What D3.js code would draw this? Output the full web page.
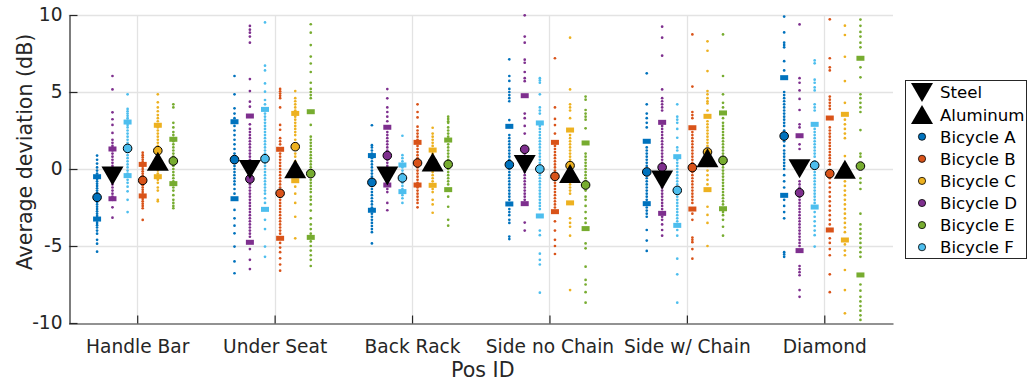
<!DOCTYPE html>
<html>
<head>
<meta charset="utf-8">
<script src="https://cdn.jsdelivr.net/npm/d3@7"></script>
<style>
  html, body { margin: 0; padding: 0; background: #fff; }
  svg { display: block; font-family: 'DejaVu Sans', Verdana, sans-serif; }
</style>
</head>
<body>
<div id="chart"></div>
<script>
// categories and series
const categories = ['Handle Bar', 'Under Seat', 'Back Rack', 'Side no Chain', 'Side w/ Chain', 'Diamond'];
const bikes = ['A', 'B', 'C', 'D', 'E', 'F'];
const steelBikes = ['A', 'D', 'F'];
const aluminumBikes = ['B', 'C', 'E'];
const yTicks = [-10, -5, 0, 5, 10];

// mean per bicycle per position (circles)
const bikeMeans = {
  A: [-1.84, 0.61, -0.87, 0.28, -0.19, 2.14],
  B: [-0.74, -1.58, 0.39, -0.48, 0.09, -0.3],
  C: [1.19, 1.45, 0.45, 0.22, 1.1, -0.05],
  D: [-0.4, -0.65, 0.87, 1.28, 0.11, -1.54],
  E: [0.52, -0.3, 0.3, -1.04, 0.56, 0.19],
  F: [1.34, 0.67, -0.58, 0.0, -1.39, 0.24]
};
// upper / lower marks (bars)
const bikeUpper = {
  A: [-0.5, 3.07, 0.87, 2.77, 1.8, 5.93],
  B: [0.3, 1.28, 1.73, 1.73, 2.68, 3.31],
  C: [2.84, 3.61, 1.23, 2.53, 3.42, 3.55],
  D: [1.3, 3.44, 2.71, 4.76, 3.03, 2.16],
  E: [1.93, 3.72, 1.88, 1.69, 3.64, 7.19],
  F: [3.05, 3.87, 0.26, 2.99, 0.8, 2.9]
};
const bikeLower = {
  A: [-3.25, -1.93, -2.68, -2.27, -2.25, -1.71],
  B: [-1.75, -4.5, -1.04, -2.77, -2.6, -3.96],
  C: [-0.5, -0.76, -1.06, -2.2, -1.34, -4.61],
  D: [-1.93, -4.76, -1.04, -2.25, -2.88, -5.3],
  E: [-0.95, -4.44, -1.34, -3.87, -2.58, -6.88],
  F: [-0.43, -2.62, -1.47, -3.05, -3.66, -2.47]
};
// group means (triangles)
const steelMeans = [-0.45, -0.04, -0.45, 0.3, -0.72, 0.02];
const aluminumMeans = [0.5, 0.02, 0.45, -0.3, 0.73, -0.02];

// individual measurements (dots)
const dotsHandleBar = {
  A: [0.87, 0.6, 0.35, 0.1, -0.1, -0.3, -0.5, -0.65, -0.8, -0.95, -1.1, -1.25, -1.4, -1.55, -1.7, -1.85, -2.0, -2.15, -2.3, -2.45, -2.6, -2.75, -2.9, -3.05, -3.2, -3.35, -3.5, -3.65, -3.8, -4.0, -4.2, -4.6, -4.85, -5.37],
  D: [6.04, 5.17, 3.68, 3.23, 2.86, 2.34, 1.9, 1.7, 1.5, 1.35, 1.2, 1.0, 0.8, 0.6, 0.4, 0.2, 0.0, -0.2, -0.4, -0.6, -0.8, -1.0, -1.2, -1.4, -1.6, -1.8, -2.0, -2.49, -3.16],
  F: [4.85, 3.9, 3.75, 3.6, 3.45, 3.3, 3.15, 3.0, 2.85, 2.7, 2.5, 2.3, 2.1, 1.9, 1.7, 1.5, 1.3, 1.1, 0.9, 0.7, 0.5, 0.3, 0.1, -0.1, -0.3, -0.5, -0.7, -0.9, -1.15, -1.45, -2.0, -2.8],
  B: [1.06, 0.9, 0.75, 0.6, 0.45, 0.3, 0.15, 0.0, -0.15, -0.3, -0.45, -0.6, -0.75, -0.9, -1.05, -1.2, -1.35, -1.5, -1.65, -1.8, -1.95, -2.1, -2.25, -2.4, -2.55, -3.31],
  C: [4.85, 4.33, 4.0, 3.75, 3.5, 3.3, 3.1, 2.9, 2.7, 2.5, 2.3, 2.1, 1.9, 1.7, 1.5, 1.3, 1.1, 0.9, 0.7, 0.5, 0.3, 0.1, -0.1, -0.3, -0.5, -0.7, -0.9, -1.2, -1.4, -2.0, -2.1],
  E: [4.2, 4.0, 3.0, 2.7, 2.4, 2.2, 2.0, 1.8, 1.6, 1.4, 1.2, 1.0, 0.8, 0.6, 0.4, 0.2, 0.0, -0.2, -0.4, -0.6, -0.8, -1.0, -1.2, -1.4, -1.7, -2.0, -2.2, -2.4, -2.55]
};
const dotsUnderSeat = {
  A: [6.04, 4.85, 3.94, 3.6, 3.3, 3.07, 2.8, 2.5, 2.2, 1.9, 1.6, 1.3, 1.0, 0.8, 0.6, 0.4, 0.2, 0.0, -0.2, -0.4, -0.6, -0.8, -1.0, -1.3, -1.6, -1.93, -2.66, -3.2, -3.68, -4.18, -5.04, -6.0, -6.77],
  D: [9.29, 9.05, 8.85, 8.6, 8.2, 5.84, 5.06, 4.37, 4.05, 3.44, 2.9, 2.6, 2.4, 2.2, 2.0, 1.8, 1.6, 1.4, 1.2, 1.0, 0.8, 0.6, -0.3, -0.6, -1.0, -1.2, -1.4, -1.6, -1.8, -2.0, -2.2, -2.4, -2.6, -2.8, -3.0, -3.2, -3.4, -3.6, -3.8, -4.0, -4.2, -4.4, -4.76, -5.2, -5.9, -6.5],
  F: [9.52, 6.71, 6.4, 5.56, 5.02, 4.48, 4.2, 3.87, 3.6, 3.4, 3.2, 3.0, 2.8, 2.6, 2.4, 2.2, 2.0, 1.8, 1.6, 1.4, 1.2, 1.0, 0.8, 0.6, 0.4, 0.2, 0.0, -0.2, -0.4, -0.6, -0.8, -1.0, -1.2, -1.4, -1.6, -1.9, -2.2, -2.62, -3.3, -3.9, -5.04, -5.7],
  B: [5.2, 5.05, 4.9, 4.75, 4.6, 4.0, 2.86, 2.55, 2.0, 1.8, 1.6, 1.28, 1.0, 0.8, 0.6, 0.4, 0.2, 0.0, -0.2, -0.4, -0.6, -0.8, -1.0, -1.2, -1.4, -1.6, -1.8, -2.0, -2.2, -2.4, -2.6, -2.8, -3.0, -3.2, -3.4, -3.6, -3.8, -4.0, -4.2, -4.5, -4.8, -5.1, -5.4, -5.8, -6.2, -6.6],
  C: [5.06, 4.6, 4.4, 4.2, 4.0, 3.8, 3.61, 3.4, 3.2, 3.0, 2.8, 2.6, 2.4, 2.2, 1.9, 1.45, 1.0, 0.8, 0.5, 0.2, -0.1, -0.5, -0.76, -1.15, -1.6, -2.2, -3.1, -4.5],
  E: [9.4, 8.85, 8.05, 7.3, 6.85, 6.3, 5.6, 5.2, 5.0, 4.8, 4.6, 3.72, 2.86, 2.1, 1.9, 1.7, 1.5, 1.3, 1.1, 0.9, 0.7, 0.5, 0.3, 0.1, -0.3, -0.7, -0.9, -1.1, -1.3, -1.5, -1.8, -2.0, -2.3, -2.7, -3.2, -3.6, -3.9, -4.2, -4.44, -4.7, -5.0, -5.3, -5.6, -5.9, -6.3]
};
const dotsBackRack = {
  A: [2.84, 1.55, 1.4, 1.2, 1.0, 0.87, 0.7, 0.5, 0.3, 0.1, -0.1, -0.3, -0.5, -0.7, -0.9, -1.1, -1.3, -1.5, -1.7, -1.9, -2.1, -2.3, -2.5, -2.68, -2.9, -3.1, -3.3, -3.5, -3.7, -3.9, -4.1, -4.83],
  D: [5.19, 4.59, 4.0, 3.7, 3.4, 3.1, 2.71, 2.4, 2.2, 2.0, 1.8, 1.6, 1.4, 1.2, 1.0, 0.8, 0.6, 0.4, 0.2, 0.0, -0.2, -0.4, -0.6, -0.8, -1.04, -1.3, -1.5, -2.2, -2.68],
  F: [2.16, 0.9, 0.7, 0.5, 0.26, 0.1, -0.1, -0.3, -0.5, -0.7, -0.9, -1.1, -1.3, -1.47, -1.7, -1.9, -2.2],
  B: [4.2, 3.7, 3.35, 2.75, 2.5, 2.3, 2.1, 1.9, 1.73, 1.5, 1.3, 1.1, 0.9, 0.7, 0.5, 0.3, 0.1, -0.1, -0.3, -0.5, -0.7, -0.9, -1.04, -1.2, -1.4, -1.6, -1.8, -2.0, -2.2, -2.49],
  C: [2.68, 2.3, 2.1, 1.9, 1.7, 1.5, 1.23, 1.0, 0.8, 0.6, 0.4, 0.2, 0.0, -0.2, -0.4, -0.6, -0.8, -1.06, -1.3, -1.5, -2.0, -2.3, -2.84],
  E: [3.4, 3.25, 3.1, 3.0, 2.7, 2.5, 2.3, 2.1, 1.88, 1.6, 1.4, 1.2, 1.0, 0.8, 0.6, 0.4, 0.2, 0.0, -0.2, -0.4, -0.6, -0.8, -1.0, -1.34, -1.8, -2.45, -3.3, -3.68]
};
const dotsSideNoChain = {
  A: [7.12, 6.04, 5.72, 5.2, 5.0, 4.8, 4.6, 4.4, 3.18, 2.77, 2.2, 2.0, 1.8, 1.6, 1.4, 1.2, 1.0, 0.8, 0.6, 0.4, 0.2, 0.0, -0.2, -0.4, -0.6, -0.8, -1.0, -1.2, -1.4, -1.6, -1.8, -2.0, -2.27, -2.6, -2.8, -3.0, -3.3, -3.5, -4.39, -4.55],
  D: [9.98, 8.6, 8.2, 7.1, 6.9, 6.3, 5.9, 5.7, 4.76, 3.6, 3.3, 2.8, 2.3, 1.28, 1.0, 0.6, 0.3, 0.0, -0.2, -0.4, -0.6, -0.8, -1.0, -1.2, -1.4, -1.6, -1.8, -2.0, -2.25, -3.48, -4.0],
  F: [5.9, 5.75, 5.6, 4.85, 4.0, 3.8, 3.6, 2.99, 2.8, 2.6, 2.4, 2.2, 2.0, 1.8, 1.6, 1.4, 1.2, 1.0, 0.8, 0.6, 0.4, 0.2, 0.0, -0.2, -0.4, -0.6, -0.8, -1.0, -1.2, -1.4, -1.6, -1.8, -2.0, -2.2, -2.4, -2.6, -3.05, -4.0, -4.3, -5.5, -5.9, -6.2, -8.03],
  B: [7.19, 4.0, 3.25, 2.85, 2.3, 1.73, 1.5, 1.3, 1.1, 0.9, 0.7, 0.5, 0.3, 0.1, -0.1, -0.3, -0.48, -0.7, -0.9, -1.1, -1.3, -1.5, -1.7, -1.9, -2.1, -2.3, -2.5, -2.77, -3.4, -4.0, -4.6, -5.0, -5.52],
  C: [8.53, 5.17, 4.2, 4.0, 3.8, 3.3, 2.53, 2.2, 2.0, 1.8, 1.6, 1.4, 1.2, 1.0, 0.8, 0.6, 0.4, 0.22, -0.4, -0.6, -0.8, -1.0, -1.2, -1.4, -1.6, -2.2, -3.2, -3.5, -3.75, -4.33, -7.86],
  E: [4.7, 4.5, 3.83, 3.6, 3.4, 3.2, 2.64, 1.69, 1.0, 0.8, 0.6, 0.4, 0.2, 0.0, -0.2, -0.4, -0.6, -0.8, -1.04, -1.4, -1.8, -2.0, -2.4, -2.8, -3.2, -3.5, -3.87, -4.83, -5.15, -6.34, -7.2, -7.5, -8.0, -8.68]
};
const dotsSideWithChain = {
  A: [6.21, 4.2, 3.6, 3.3, 3.0, 2.7, 1.8, 1.4, 1.2, 1.0, 0.8, 0.6, 0.4, 0.2, 0.0, -0.19, -0.4, -0.6, -0.8, -1.0, -1.2, -1.4, -1.6, -1.8, -2.0, -2.25, -2.5, -2.7, -2.9, -3.1, -3.96, -4.65, -5.32],
  D: [9.24, 8.53, 7.36, 5.17, 4.6, 4.4, 4.2, 4.0, 3.8, 3.03, 2.8, 2.6, 2.4, 2.2, 2.0, 1.8, 1.6, 1.4, 1.2, 1.0, 0.8, 0.6, 0.4, 0.11, -0.3, -0.6, -0.9, -1.2, -1.4, -1.6, -1.8, -2.0, -2.2, -2.4, -2.6, -2.88, -3.1, -3.3, -3.6, -3.96, -4.33],
  F: [4.2, 3.4, 3.2, 3.0, 2.6, 2.03, 1.4, 1.2, 0.8, 0.6, 0.4, 0.2, 0.0, -0.2, -0.4, -0.6, -0.8, -1.0, -1.2, -1.39, -1.6, -1.8, -2.0, -2.2, -2.4, -2.6, -2.8, -3.0, -3.2, -3.4, -3.66, -3.96, -4.33, -5.82, -6.84, -8.68],
  B: [8.74, 5.35, 3.7, 3.5, 3.3, 2.68, 2.4, 2.2, 2.0, 1.8, 1.6, 1.4, 1.2, 1.0, 0.8, 0.6, 0.4, 0.09, -0.2, -0.4, -0.6, -0.8, -1.0, -1.2, -1.4, -1.6, -1.8, -2.0, -2.2, -2.6, -2.9, -3.3, -4.45, -4.6, -4.75, -5.2, -5.82],
  C: [8.29, 7.68, 6.36, 5.06, 4.85, 4.6, 4.4, 4.26, 3.8, 3.42, 3.1, 2.9, 2.7, 2.5, 2.3, 2.1, 1.9, 1.7, 1.5, 1.1, 0.8, 0.5, 0.2, -0.1, -0.4, -0.7, -1.0, -1.34, -2.45, -2.98, -3.5, -5.0],
  E: [8.74, 6.04, 4.85, 4.3, 4.0, 3.64, 3.3, 3.0, 2.8, 2.6, 2.4, 2.2, 2.0, 1.8, 1.6, 1.4, 1.2, 1.0, 0.8, 0.56, 0.3, 0.1, -0.1, -0.3, -0.5, -0.7, -0.9, -1.1, -1.3, -1.5, -1.7, -1.9, -2.1, -2.3, -2.58, -2.8, -3.0, -3.3, -3.75, -4.33]
};
const dotsDiamond = {
  A: [9.9, 8.87, 8.2, 8.05, 7.9, 7.0, 6.4, 5.93, 5.0, 4.8, 4.6, 4.4, 4.2, 4.0, 3.8, 3.6, 3.4, 3.2, 3.0, 2.8, 2.5, 2.14, 1.8, 1.5, 1.2, 1.0, 0.8, 0.6, 0.4, 0.2, 0.0, -0.4, -0.8, -1.2, -1.71, -2.0, -2.4, -2.8, -3.2, -5.4, -5.55, -5.7],
  D: [9.39, 5.9, 5.6, 5.1, 4.55, 3.83, 2.9, 2.7, 2.16, 1.6, 1.3, -0.8, -1.0, -1.2, -1.54, -1.8, -2.0, -2.2, -2.4, -2.6, -2.8, -3.0, -3.2, -3.4, -3.6, -3.8, -4.0, -4.2, -4.4, -4.6, -4.8, -5.0, -5.3, -6.3, -6.5, -6.7, -6.9, -7.86, -8.3],
  F: [7.05, 6.86, 5.8, 5.6, 5.3, 5.1, 4.2, 4.0, 3.8, 2.9, 2.6, 2.4, 2.2, 2.0, 1.8, 1.6, 1.4, 1.2, 1.0, 0.8, 0.5, 0.24, 0.0, -0.2, -0.4, -0.6, -0.8, -1.0, -1.2, -1.4, -1.6, -1.8, -2.0, -2.2, -2.47, -2.8, -3.1, -3.4, -3.7, -4.0, -4.3, -5.04],
  B: [9.72, 7.19, 6.6, 6.4, 4.7, 4.5, 4.3, 4.1, 3.9, 3.31, 2.7, 2.5, 2.3, 2.1, 1.9, 1.7, 1.5, 1.3, 1.1, 0.9, 0.7, 0.5, 0.3, -0.3, -0.6, -0.9, -1.2, -1.5, -1.8, -2.1, -2.4, -2.7, -3.0, -3.3, -3.6, -3.96, -4.5, -4.8, -5.2, -5.6, -6.84, -8.0],
  C: [9.31, 8.7, 7.29, 5.71, 4.3, 3.55, 3.2, 2.9, 2.6, 2.3, 2.0, 0.84, 0.1, -0.2, -0.5, -0.8, -1.1, -1.4, -1.7, -2.0, -2.3, -2.6, -2.9, -3.2, -3.5, -3.8, -4.1, -4.61, -4.9, -5.3, -5.6, -6.56, -7.86, -9.37],
  E: [9.7, 9.3, 8.9, 8.6, 8.2, 7.9, 7.19, 6.6, 5.95, 4.85, 4.6, 4.3, 4.0, 3.7, 2.53, 1.0, 0.8, 0.19, -0.6, -0.9, -1.3, -2.9, -3.6, -3.9, -4.2, -4.5, -4.8, -5.1, -5.4, -5.7, -6.88, -7.5, -7.9, -8.3, -8.6, -8.9, -9.2, -9.5, -9.8]
};
const dotsByCategory = [dotsHandleBar, dotsUnderSeat, dotsBackRack, dotsSideNoChain, dotsSideWithChain, dotsDiamond];

// layout / style
const width = 1030, height = 383;
const margin = { top: 15, right: 137, bottom: 60, left: 68.5 };
const textColor = '#262626';
const gridColor = '#e3e3e3';
const colors = { A: '#0072BD', B: '#D95319', C: '#EDB120', D: '#7E2F8E', E: '#77AC30', F: '#4DBEEE' };
// horizontal offset of each bicycle inside a position group (axis units)
const bikeOffset = { A: -0.292, D: -0.18, F: -0.07, B: 0.04, C: 0.15, E: 0.263 };

const svg = d3.select('#chart').append('svg')
  .attr('width', width)
  .attr('height', height);

const x = d3.scaleLinear()
  .domain([0.5, categories.length + 0.5])
  .range([margin.left, width - margin.right]);

const y = d3.scaleLinear()
  .domain([-10, 10])
  .range([height - margin.bottom, margin.top]);

// grid
svg.append('g')
  .selectAll('line')
  .data(yTicks.filter(t => t > -10))
  .join('line')
  .attr('x1', margin.left).attr('x2', width - margin.right)
  .attr('y1', d => Math.round(y(d)) + 0.5).attr('y2', d => Math.round(y(d)) + 0.5)
  .attr('stroke', gridColor).attr('stroke-width', 1.3);

svg.append('g')
  .selectAll('line')
  .data(categories)
  .join('line')
  .attr('x1', (d, i) => Math.round(x(i + 1)) + 0.5).attr('x2', (d, i) => Math.round(x(i + 1)) + 0.5)
  .attr('y1', y(10)).attr('y2', y(-10))
  .attr('stroke', gridColor).attr('stroke-width', 1.3);

// axes
const xAxis = svg.append('g')
  .attr('transform', `translate(0,${Math.round(y(-10)) + 0.5})`)
  .call(d3.axisBottom(x)
    .tickValues(categories.map((c, i) => i + 1))
    .tickFormat((d, i) => categories[i])
    .tickSizeInner(-8).tickSizeOuter(0).tickPadding(16));
xAxis.select('.domain').attr('stroke', textColor).attr('stroke-width', 1.2);
xAxis.selectAll('.tick line').attr('stroke', textColor).attr('stroke-width', 1.2);
xAxis.selectAll('.tick text')
  .attr('fill', textColor)
  .style('font-size', '18.6px')
  .style('font-family', "'DejaVu Sans', Verdana, sans-serif");

const yAxis = svg.append('g')
  .attr('transform', `translate(${Math.round(margin.left) + 0.5},0)`)
  .call(d3.axisLeft(y)
    .tickValues(yTicks)
    .tickFormat(d => String(d))
    .tickSizeInner(-8).tickSizeOuter(0).tickPadding(7));
yAxis.select('.domain').attr('stroke', textColor).attr('stroke-width', 1.2);
yAxis.selectAll('.tick line').attr('stroke', textColor).attr('stroke-width', 1.2);
yAxis.selectAll('.tick text')
  .attr('fill', textColor)
  .style('font-size', '18.6px')
  .style('font-family', "'DejaVu Sans', Verdana, sans-serif");

// axis labels
svg.append('text')
  .attr('x', (margin.left + width - margin.right) / 2 + 2)
  .attr('y', 377)
  .attr('text-anchor', 'middle')
  .attr('fill', textColor)
  .style('font-size', '20.6px')
  .text('Pos ID');

svg.append('text')
  .attr('transform', `translate(32,152) rotate(-90)`)
  .attr('text-anchor', 'middle')
  .attr('fill', textColor)
  .style('font-size', '20.6px')
  .text('Average deviation (dB)');

// triangle path helper (dir 1 = up, -1 = down)
const triW = 22, triH = 19;
const triPath = (cx, cy, dir) => {
  const h = triH / 2, w = triW / 2;
  return dir > 0
    ? `M${cx},${cy - h}L${cx + w},${cy + h}L${cx - w},${cy + h}Z`
    : `M${cx},${cy + h}L${cx + w},${cy - h}L${cx - w},${cy - h}Z`;
};

const plot = svg.append('g');
const orderedBikes = [...steelBikes, ...aluminumBikes];

categories.forEach((cat, ci) => {
  const g = plot.append('g');
  const cx = ci + 1;

  orderedBikes.forEach(b => {
    g.append('g')
      .selectAll('circle')
      .data(dotsByCategory[ci][b])
      .join('circle')
      .attr('cx', x(cx + bikeOffset[b]))
      .attr('cy', d => y(d))
      .attr('r', 1.35)
      .attr('fill', colors[b]);
  });

  orderedBikes.forEach(b => {
    [bikeUpper[b][ci], bikeLower[b][ci]].forEach(v => {
      g.append('rect')
        .attr('x', x(cx + bikeOffset[b]) - 4)
        .attr('y', y(v) - 2.5)
        .attr('width', 8)
        .attr('height', 5)
        .attr('fill', colors[b]);
    });
  });

  orderedBikes.forEach(b => {
    g.append('circle')
      .attr('cx', x(cx + bikeOffset[b]))
      .attr('cy', y(bikeMeans[b][ci]))
      .attr('r', 4.3)
      .attr('fill', colors[b])
      .attr('stroke', '#000')
      .attr('stroke-width', 1);
  });

  g.append('path')
    .attr('d', triPath(x(cx + bikeOffset.D), y(steelMeans[ci]), -1))
    .attr('fill', '#000');
  g.append('path')
    .attr('d', triPath(x(cx + bikeOffset.C), y(aluminumMeans[ci]), 1))
    .attr('fill', '#000');
});

// legend
const legendX = 905.5, legendY = 80.5, legendW = 121, legendH = 178, rowH = 22.1;
const legend = svg.append('g');
legend.append('rect')
  .attr('x', legendX).attr('y', legendY)
  .attr('width', legendW).attr('height', legendH)
  .attr('fill', '#fff')
  .attr('stroke', textColor)
  .attr('stroke-width', 1);

const legendItems = [
  { label: 'Steel', type: 'down' },
  { label: 'Aluminum', type: 'up' },
  ...bikes.map(b => ({ label: 'Bicycle ' + b, type: 'dot', bike: b }))
];

legendItems.forEach((item, i) => {
  const cy = legendY + 12 + i * rowH;
  if (item.type === 'dot') {
    legend.append('circle')
      .attr('cx', 922).attr('cy', cy)
      .attr('r', 3.6)
      .attr('fill', colors[item.bike])
      .attr('stroke', '#000').attr('stroke-width', 0.8);
  } else {
    legend.append('path')
      .attr('d', triPath(922, cy, item.type === 'up' ? 1 : -1))
      .attr('fill', '#000');
  }
  legend.append('text')
    .attr('x', 940)
    .attr('y', cy)
    .attr('dy', '0.36em')
    .attr('fill', '#000')
    .style('font-size', '16.6px')
    .text(item.label);
});
</script>
</body>
</html>
